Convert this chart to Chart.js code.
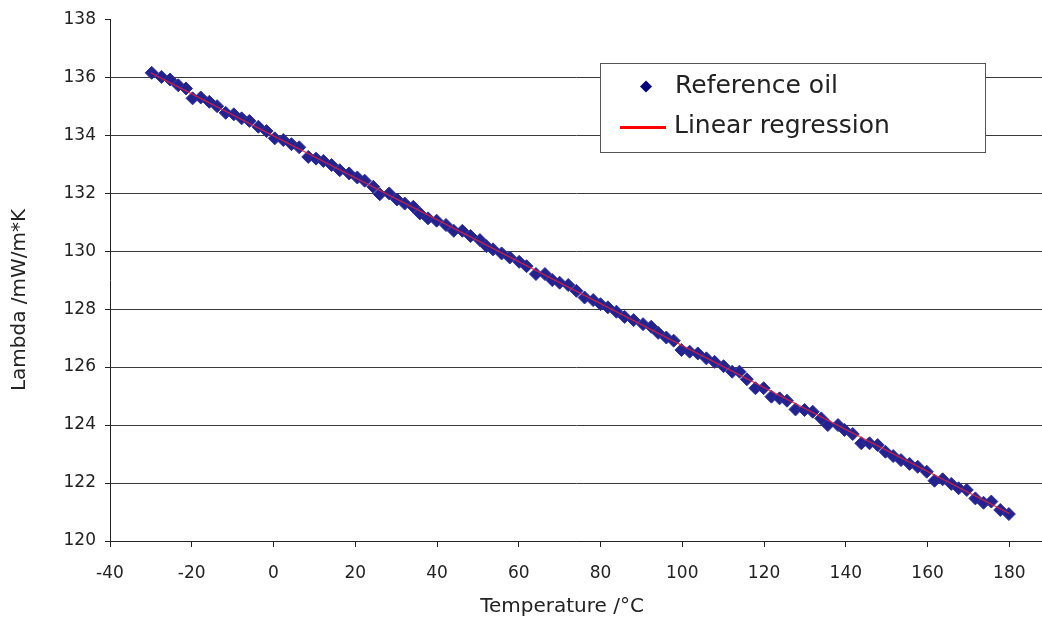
<!DOCTYPE html>
<html>
<head>
<meta charset="utf-8">
<script src="https://cdn.jsdelivr.net/npm/chart.js@4.4.1/dist/chart.umd.min.js"></script>
<style>
  body { margin: 0; background: #fff; }
  #wrap { width: 1042px; height: 620px; }
</style>
</head>
<body>
<div id="wrap"><canvas id="myChart" width="1042" height="620"></canvas></div>
<script>
// data
const temps = [-29.8, -27.4, -25.3, -23.3, -21.4, -19.8, -17.8, -15.7, -13.8, -11.7, -9.7, -7.8, -5.9, -3.7, -1.7, 0.3, 2.4, 4.4, 6.3, 8.5, 10.4,
    12.2, 14.2, 16.2, 18.5, 20.5, 22.3, 24.4, 26.0, 28.3, 30.2, 32.1, 34.2, 35.8, 37.8, 39.9, 42.2, 44.1, 46.2, 48.2, 50.5, 52.1,
    53.7, 55.8, 57.8, 60.1, 61.9, 64.2, 66.4, 68.2, 70.0, 72.1, 74.1, 76.1, 78.2, 80.0, 81.8, 83.9, 85.9, 88.1, 90.4, 92.4, 94.1,
    96.1, 97.9, 99.8, 101.8, 103.8, 105.9, 107.9, 110.1, 112.2, 114.0, 115.8, 117.9, 119.9, 121.8, 123.8, 125.6, 127.7, 129.9, 131.9, 134.0, 135.6,
    138.1, 139.7, 141.7, 143.8, 145.8, 147.8, 149.7, 151.6, 153.5, 155.6, 157.6, 159.8, 161.7, 163.7, 165.8, 167.6, 169.6, 171.7, 173.7, 175.6, 177.8, 179.9];
const lambdas = [136.15, 136.01, 135.92, 135.72, 135.61, 135.27, 135.30, 135.15, 135.00, 134.77, 134.72, 134.58, 134.49, 134.29, 134.14, 133.89, 133.83, 133.69, 133.58, 133.25, 133.19,
    133.11, 132.97, 132.79, 132.68, 132.54, 132.43, 132.22, 131.96, 131.99, 131.78, 131.64, 131.53, 131.30, 131.13, 131.05, 130.90, 130.70, 130.70, 130.52, 130.38, 130.17,
    130.06, 129.92, 129.78, 129.63, 129.48, 129.21, 129.21, 129.00, 128.91, 128.83, 128.63, 128.40, 128.31, 128.17, 128.06, 127.91, 127.73, 127.62, 127.48, 127.39, 127.18,
    127.02, 126.91, 126.59, 126.53, 126.47, 126.30, 126.18, 126.03, 125.84, 125.84, 125.58, 125.27, 125.27, 124.98, 124.92, 124.84, 124.54, 124.52, 124.46, 124.23, 124.00,
    124.00, 123.83, 123.69, 123.37, 123.37, 123.31, 123.08, 122.93, 122.79, 122.66, 122.56, 122.39, 122.08, 122.13, 121.97, 121.82, 121.76, 121.47, 121.32, 121.36, 121.07, 120.93];
const fitTemps = [-30, 180];
const fitLambdas = [136.15, 120.95];
const xTicks = [-40, -20, 0, 20, 40, 60, 80, 100, 120, 140, 160, 180];
const yTicks = [120, 122, 124, 126, 128, 130, 132, 134, 136, 138];
const seriesNames = ['Reference oil', 'Linear regression'];
const xTitle = 'Temperature /°C';
const yTitle = 'Lambda /mW/m*K';

const FONT = '"DejaVu Sans", Verdana, sans-serif';
const MARKER = '#232390';

// titles and the boxed legend
const extras = {
    id: 'extras',
    afterDraw(chart) {
        const ctx = chart.ctx;
        ctx.save();
        ctx.fillStyle = '#222';
        ctx.font = '20px ' + FONT;
        ctx.textAlign = 'center';
        ctx.textBaseline = 'middle';
        ctx.fillText(xTitle, 562, 607);
        ctx.translate(20, 300);
        ctx.rotate(-Math.PI / 2);
        ctx.fillText(yTitle, 0, 0);
        ctx.restore();

        ctx.save();
        ctx.fillStyle = '#fff';
        ctx.strokeStyle = '#555';
        ctx.lineWidth = 1;
        ctx.fillRect(600.5, 63.5, 385, 89);
        ctx.strokeRect(600.5, 63.5, 385, 89);
        // diamond
        ctx.fillStyle = '#000080';
        ctx.beginPath();
        ctx.moveTo(646, 80.5); ctx.lineTo(652, 86.5); ctx.lineTo(646, 92.5); ctx.lineTo(640, 86.5);
        ctx.closePath();
        ctx.fill();
        // red line
        ctx.strokeStyle = '#ff0000';
        ctx.lineWidth = 3;
        ctx.beginPath();
        ctx.moveTo(620, 127.5); ctx.lineTo(666, 127.5);
        ctx.stroke();
        ctx.fillStyle = '#222';
        ctx.font = '25px ' + FONT;
        ctx.textAlign = 'left';
        ctx.textBaseline = 'middle';
        ctx.fillText(seriesNames[0], 675, 86);
        ctx.fillText(seriesNames[1], 674, 126);
        ctx.restore();
    }
};

// setup
const data = {
    datasets: [{
        label: seriesNames[0],
        data: temps.map((t, i) => ({ x: t, y: lambdas[i] })),
        showLine: false,
        pointStyle: 'rectRot',
        pointRadius: 6.5,
        pointBackgroundColor: MARKER,
        pointBorderColor: '#30309a',
        pointBorderWidth: 1,
        order: 1
    }, {
        label: seriesNames[1],
        data: fitTemps.map((t, i) => ({ x: t, y: fitLambdas[i] })),
        showLine: true,
        borderColor: 'rgba(230, 30, 60, 0.8)',
        borderWidth: 1.4,
        pointRadius: 0,
        order: 0
    }]
};

// config
const config = {
    type: 'scatter',
    data,
    plugins: [extras],
    options: {
        responsive: false,
        animation: false,
        devicePixelRatio: 1,
        layout: { autoPadding: false, padding: { top: 19, right: 0, left: 0, bottom: 0 } },
        plugins: {
            legend: { display: false },
            tooltip: { enabled: false }
        },
        scales: {
            x: {
                type: 'linear',
                min: -40,
                max: 188,
                afterBuildTicks: s => { s.ticks = xTicks.map(v => ({ value: v })); },
                afterFit: s => { s.height = 79; },
                grid: {
                    drawOnChartArea: false,
                    drawTicks: true,
                    tickLength: 6,
                    tickColor: '#222'
                },
                border: { display: true, color: '#222', width: 1 },
                ticks: {
                    padding: 16,
                    color: '#222',
                    font: { family: FONT, size: 17 },
                    maxRotation: 0,
                    autoSkip: false
                }
            },
            y: {
                type: 'linear',
                min: 120,
                max: 138,
                afterBuildTicks: s => { s.ticks = yTicks.map(v => ({ value: v })); },
                afterFit: s => { s.width = 110; },
                grid: {
                    color: c => (c.tick && c.tick.value === 138) ? 'rgba(0,0,0,0)' : '#3a3a3a',
                    lineWidth: 1,
                    drawTicks: true,
                    tickLength: 5,
                    tickColor: '#222'
                },
                border: { display: true, color: '#222', width: 1 },
                ticks: {
                    padding: 9,
                    color: '#222',
                    font: { family: FONT, size: 17 },
                    autoSkip: false
                }
            }
        }
    }
};

// render init block
const myChart = new Chart(document.getElementById('myChart'), config);
</script>
</body>
</html>
